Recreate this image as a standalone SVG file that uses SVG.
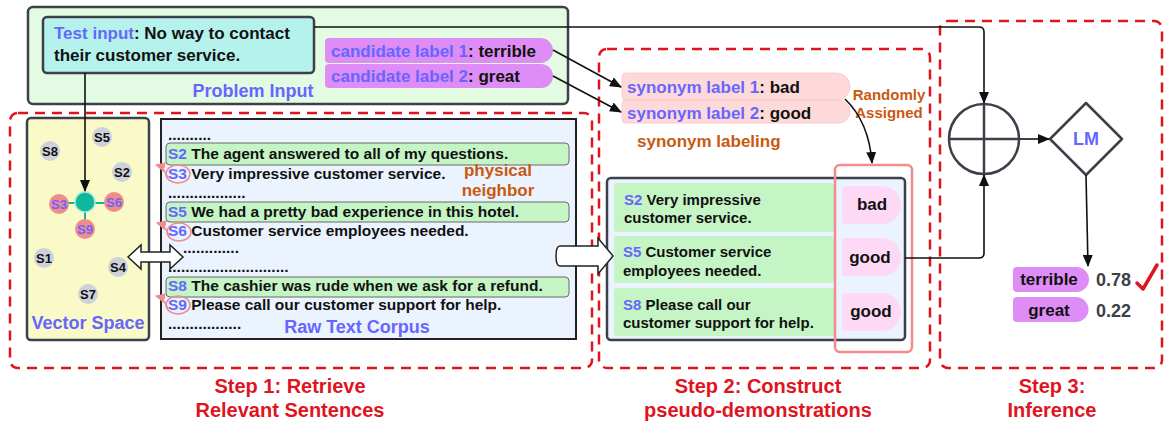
<svg xmlns="http://www.w3.org/2000/svg" width="1172" height="424" viewBox="0 0 1172 424">
<defs>
<style>
text{font-family:"Liberation Sans",Arial,sans-serif;font-weight:bold;}
.b{fill:#6666ff;}
.k{fill:#111;}
.o{fill:#c8590f;}
.r{fill:#e0141e;}
.step{fill:none;stroke:#e0141e;stroke-width:2.5;stroke-dasharray:10 7;}
.node{stroke:#3c4049;stroke-width:2.5;}
.grn{fill:#c5f5c5;stroke:#6a6a6a;stroke-width:1;}
.row{fill:#c5f5c5;}
.gc{fill:#cdd1d9;}
.rc{fill:#f28b8b;}
.line{fill:none;stroke:#111;stroke-width:1.6;}
.pk{fill:none;stroke:#f28b8b;stroke-width:1.5;}
.blk{fill:#fff;stroke:#222;stroke-width:1.5;}
</style>
<marker id="ah" viewBox="0 0 12 10" markerWidth="12" markerHeight="10" refX="11" refY="5" orient="auto" markerUnits="userSpaceOnUse"><path d="M0,0 L12,5 L0,10 Z" fill="#111"/></marker>
<marker id="ap" viewBox="0 0 10 10" markerWidth="10" markerHeight="10" refX="9" refY="5" orient="auto" markerUnits="userSpaceOnUse"><path d="M0,0 L10,5 L0,10 Z" fill="#f28b8b"/></marker>
</defs>
<rect width="1172" height="424" fill="#fff"/>

<!-- step boxes -->
<g id="step1">
<rect class="step" x="10" y="113" width="582" height="255" rx="8"/>
<text class="r" x="290" y="393" font-size="20" text-anchor="middle">Step 1: Retrieve</text>
<text class="r" x="290" y="417" font-size="20" text-anchor="middle">Relevant Sentences</text>
</g>
<g id="step2">
<rect class="step" x="599" y="49" width="331" height="319" rx="8"/>
<text class="r" x="758" y="393" font-size="20" text-anchor="middle">Step 2: Construct</text>
<text class="r" x="758" y="417" font-size="20" text-anchor="middle">pseudo-demonstrations</text>
</g>
<g id="step3">
<rect class="step" x="940" y="21" width="222" height="347" rx="8"/>
<text class="r" x="1052" y="393" font-size="20" text-anchor="middle">Step 3:</text>
<text class="r" x="1052" y="417" font-size="20" text-anchor="middle">Inference</text>
</g>

<!-- problem input -->
<g id="problem-input">
<rect class="node" x="28" y="7" width="540" height="97" rx="5" fill="#e3fae3"/>
<text class="b" x="253" y="97" font-size="18" text-anchor="middle">Problem Input</text>
</g>
<g id="test-input">
<rect class="node" x="43" y="17" width="271" height="56" rx="4" fill="#b5f2ec"/>
<text x="54" y="39" font-size="17"><tspan class="b">Test input</tspan><tspan class="k">: No way to contact</tspan></text>
<text class="k" x="54" y="61" font-size="17">their customer service.</text>
</g>
<g id="candidate1">
<path d="M329,38 H540.5 A12.5,12.5 0 0 1 540.5,63 H329 Q325,63 325,59 V42 Q325,38 329,38 Z" fill="#df8df6"/>
<text x="331" y="57" font-size="17"><tspan class="b">candidate label 1</tspan><tspan class="k">: terrible</tspan></text>
</g>
<g id="candidate2">
<path d="M329,64 H541 A12,12 0 0 1 541,88 H329 Q325,88 325,84 V68 Q325,64 329,64 Z" fill="#df8df6"/>
<text x="331" y="82" font-size="17"><tspan class="b">candidate label 2</tspan><tspan class="k">: great</tspan></text>
</g>

<!-- vector space -->
<g id="vector-space">
<rect class="node" x="27" y="118" width="122" height="222" rx="4" fill="#fafac8"/>
<g stroke="#0db89b" stroke-width="2"><line x1="59" y1="203" x2="114" y2="203"/><line x1="85" y1="202" x2="85" y2="229"/></g>
<circle class="gc" cx="102" cy="137" r="10"/><text x="102" y="142" font-size="13" text-anchor="middle" class="k">S5</text>
<circle class="gc" cx="50" cy="151" r="10"/><text x="50" y="156" font-size="13" text-anchor="middle" class="k">S8</text>
<circle class="gc" cx="122" cy="172" r="10"/><text x="122" y="177" font-size="13" text-anchor="middle" class="k">S2</text>
<circle class="rc" cx="59" cy="204" r="10"/><text x="59" y="209" font-size="13" text-anchor="middle" class="b">S3</text>
<circle class="rc" cx="114" cy="202" r="10"/><text x="114" y="207" font-size="13" text-anchor="middle" class="b">S6</text>
<circle class="rc" cx="85" cy="229" r="10"/><text x="85" y="234" font-size="13" text-anchor="middle" class="b">S9</text>
<circle cx="85" cy="202" r="10" fill="#0db89b" stroke="#a8e6e0" stroke-width="1.5"/>
<circle class="gc" cx="44" cy="258" r="10"/><text x="44" y="263" font-size="13" text-anchor="middle" class="k">S1</text>
<circle class="gc" cx="118" cy="267" r="10"/><text x="118" y="272" font-size="13" text-anchor="middle" class="k">S4</text>
<circle class="gc" cx="88" cy="294" r="10"/><text x="88" y="299" font-size="13" text-anchor="middle" class="k">S7</text>
<text class="b" x="88" y="329" font-size="18" text-anchor="middle">Vector Space</text>
</g>

<!-- raw text corpus -->
<g id="raw-text-corpus">
<rect x="161" y="119" width="415" height="220" fill="#ebf3ff" stroke="#222" stroke-width="2"/>
<rect class="grn" x="166" y="143" width="403" height="22" rx="4"/>
<rect class="grn" x="166" y="202" width="403" height="20" rx="4"/>
<rect class="grn" x="166" y="277" width="403" height="20" rx="4"/>
<g font-size="15.5" class="k">
<text x="168" y="140">..........</text>
<text x="168" y="159"><tspan class="b">S2</tspan> The agent answered to all of my questions.</text>
<text x="168" y="179"><tspan class="b">S3</tspan> Very impressive customer service.</text>
<text x="168" y="198">..................</text>
<text x="168" y="217"><tspan class="b">S5</tspan> We had a pretty bad experience in this hotel.</text>
<text x="168" y="236"><tspan class="b">S6</tspan>  Customer service employees needed.</text>
<text x="183" y="253">.............</text>
<text x="168" y="272">............................</text>
<text x="168" y="291"><tspan class="b">S8</tspan> The cashier was rude when we ask for a refund.</text>
<text x="168" y="310"><tspan class="b">S9</tspan> Please call our customer support for help.</text>
<text x="168" y="329">.................</text>
</g>
<ellipse class="pk" cx="178" cy="174" rx="12" ry="9"/>
<ellipse class="pk" cx="179" cy="232" rx="12" ry="9"/>
<ellipse class="pk" cx="178" cy="305" rx="12" ry="9"/>
<path class="pk" d="M168,178 Q164,167 156,165" marker-end="url(#ap)"/>
<path class="pk" d="M169,236 Q165,225 157,223" marker-end="url(#ap)"/>
<path class="pk" d="M168,309 Q164,298 156,296" marker-end="url(#ap)"/>
<text class="b" x="357" y="333" font-size="18" text-anchor="middle">Raw Text Corpus</text>
<text class="o" x="498" y="176" font-size="17" text-anchor="middle">physical</text>
<text class="o" x="498" y="196" font-size="17" text-anchor="middle">neighbor</text>
</g>

<!-- synonym labels -->
<g id="synonym1">
<path d="M626,73 H836.5 A13.5,13.5 0 0 1 836.5,100 H626 Q622,100 622,96 V77 Q622,73 626,73 Z" fill="#fdd9d9" stroke="#f6c4c4" stroke-width="0.8"/>
<text x="627" y="93" font-size="17"><tspan class="b">synonym label 1</tspan><tspan class="k">: bad</tspan></text>
</g>
<g id="synonym2">
<path d="M626,100 H838.5 A11.5,11.5 0 0 1 838.5,123 H626 Q622,123 622,119 V104 Q622,100 626,100 Z" fill="#fdd9d9" stroke="#f6c4c4" stroke-width="0.8"/>
<text x="627" y="119" font-size="17"><tspan class="b">synonym label 2</tspan><tspan class="k">: good</tspan></text>
</g>
<g id="synonym-notes">
<text class="o" x="889" y="100" font-size="15" text-anchor="middle">Randomly</text>
<text class="o" x="889" y="118" font-size="15" text-anchor="middle">Assigned</text>
<text class="o" x="637" y="147" font-size="17">synonym labeling</text>
</g>

<!-- demonstrations -->
<g id="demonstrations">
<rect class="node" x="607" y="178" width="298" height="162" rx="4" fill="#ebf3ff"/>
<rect class="row" x="614" y="183" width="220" height="49" rx="3"/>
<rect class="row" x="614" y="236" width="220" height="47" rx="3"/>
<rect class="row" x="614" y="288" width="220" height="48" rx="3"/>
<g font-size="15" class="k">
<text x="624" y="205"><tspan class="b">S2</tspan> Very impressive</text>
<text x="624" y="223">customer service.</text>
<text x="623" y="257"><tspan class="b">S5</tspan> Customer service</text>
<text x="623" y="276">employees needed.</text>
<text x="623" y="310"><tspan class="b">S8</tspan> Please call our</text>
<text x="623" y="328">customer support for help.</text>
</g>
<path d="M846,186 H882 A19,19 0 0 1 882,224 H846 Q842,224 842,220 V190 Q842,186 846,186 Z" fill="#fdd9f5"/>
<path d="M846,238 H882 A19,19 0 0 1 882,276 H846 Q842,276 842,272 V242 Q842,238 846,238 Z" fill="#fdd9f5"/>
<path d="M846,293 H882 A19,19 0 0 1 882,331 H846 Q842,331 842,327 V297 Q842,293 846,293 Z" fill="#fdd9f5"/>
<text class="k" x="872" y="210" font-size="17" text-anchor="middle">bad</text>
<text class="k" x="870" y="263" font-size="17" text-anchor="middle">good</text>
<text class="k" x="871" y="317" font-size="17" text-anchor="middle">good</text>
<rect x="835" y="165" width="77" height="187" rx="5" fill="none" stroke="#f28b8b" stroke-width="2.5"/>
</g>

<!-- inference -->
<g id="combine">
<circle class="node" cx="984" cy="139" r="35" fill="#fff"/>
<line x1="949" y1="139" x2="1019" y2="139" stroke="#3c4049" stroke-width="2.5"/>
<line x1="984" y1="104" x2="984" y2="174" stroke="#3c4049" stroke-width="2.5"/>
</g>
<g id="lm">
<path class="node" d="M1086,103 L1122,139 L1086,175 L1050,139 Z" fill="#fff" stroke-linejoin="round"/>
<text class="b" x="1086" y="145" font-size="18" text-anchor="middle">LM</text>
</g>
<g id="result-terrible">
<path d="M1017,267 H1076.5 A12.5,12.5 0 0 1 1076.5,292 H1017 Q1013,292 1013,288 V271 Q1013,267 1017,267 Z" fill="#df8df6"/>
<text class="k" x="1049" y="285" font-size="17" text-anchor="middle">terrible</text>
<text x="1096" y="286" font-size="18" fill="#3c4049">0.78</text>
<path d="M1137,283 L1143,289 L1157,265" fill="none" stroke="#e0141e" stroke-width="3.5" stroke-linecap="round" stroke-linejoin="round"/>
</g>
<g id="result-great">
<path d="M1017,297 H1076 A12.5,12.5 0 0 1 1076,322 H1017 Q1013,322 1013,318 V301 Q1013,297 1017,297 Z" fill="#df8df6"/>
<text class="k" x="1049" y="316" font-size="17" text-anchor="middle">great</text>
<text x="1096" y="317" font-size="18" fill="#3c4049">0.22</text>
</g>

<!-- connectors -->
<g id="connectors">
<path class="line" d="M314,27 H979 Q984,27 984,32 V103" marker-end="url(#ah)"/>
<path class="line" d="M85,73 V191" marker-end="url(#ah)"/>
<path class="line" d="M553,50 L621,87" marker-end="url(#ah)"/>
<path class="line" d="M553,76 L621,112" marker-end="url(#ah)"/>
<path class="line" d="M845,99 Q869,122 872,163" marker-end="url(#ah)"/>
<path class="line" d="M905,258 H979 Q984,258 984,253 V175" marker-end="url(#ah)"/>
<path class="line" d="M1020,139 H1049" marker-end="url(#ah)"/>
<path class="line" d="M1086,175 L1088,266" marker-end="url(#ah)"/>
<path class="blk" d="M128,257 L141,245 L141,252 L170,252 L170,245 L183,257 L170,269 L170,262 L141,262 L141,269 Z"/>
<path class="blk" d="M560,246 H598 V238 L613,256 L598,274 V266 H560 Q556,266 556,256 Q556,246 560,246 Z"/>
</g>
</svg>
